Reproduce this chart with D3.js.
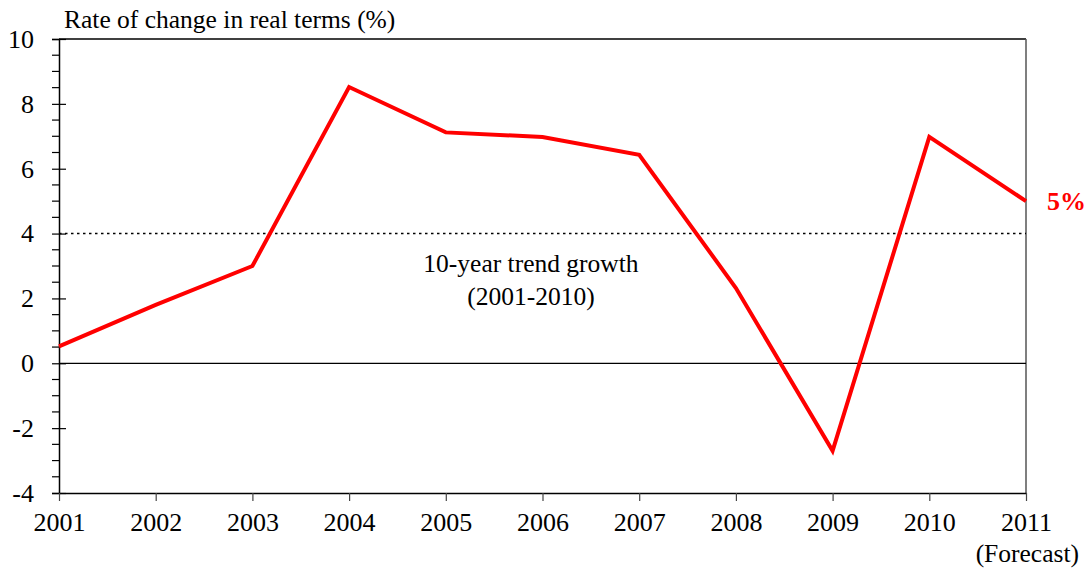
<!DOCTYPE html>
<html>
<head>
<meta charset="utf-8">
<script src="https://cdn.jsdelivr.net/npm/d3@7"></script>
<style>
  body { margin: 0; background: #fff; }
  svg text { font-family: "Liberation Serif", "Times New Roman", serif; }
</style>
</head>
<body>
<div id="chart"></div>
<script>
// data
var years = ["2001", "2002", "2003", "2004", "2005", "2006", "2007", "2008", "2009", "2010", "2011"];
var growth = [0.52, 1.8, 3.0, 8.52, 7.12, 6.98, 6.43, 2.32, -2.7, 6.98, 5.0];
var trendValue = 4.0;
var yTicks = [-4, -2, 0, 2, 4, 6, 8, 10];

var width = 1086, height = 570;
var margin = {left: 59, right: 60, top: 39, bottom: 77};

var svg = d3.select("#chart").append("svg")
  .attr("width", width)
  .attr("height", height);

var x = d3.scalePoint()
  .domain(years)
  .range([margin.left, width - margin.right]);

var y = d3.scaleLinear()
  .domain([-4, 10])
  .range([height - margin.bottom, margin.top]);

// frame (top + right)
svg.append("line")
  .attr("x1", margin.left).attr("x2", width - margin.right)
  .attr("y1", y(10)).attr("y2", y(10))
  .attr("stroke", "#000").attr("stroke-width", 1.5);
svg.append("line")
  .attr("x1", width - margin.right).attr("x2", width - margin.right)
  .attr("y1", y(10)).attr("y2", y(-4))
  .attr("stroke", "#555").attr("stroke-width", 1.5);

// minor ticks on y axis
var minor = d3.range(-4, 10.01, 0.5).filter(function(d) { return d % 2 !== 0; });
svg.selectAll(".minor").data(minor).enter().append("line")
  .attr("x1", margin.left - 7).attr("x2", margin.left)
  .attr("y1", function(d) { return y(d); }).attr("y2", function(d) { return y(d); })
  .attr("stroke", "#000").attr("stroke-width", 1.2);

// y axis
var yAxis = svg.append("g")
  .attr("transform", "translate(" + margin.left + ",0)")
  .call(d3.axisLeft(y).tickValues(yTicks).tickSize(7).tickPadding(18)
    .tickFormat(function(d) { return String(d); }));
yAxis.select(".domain").attr("stroke-width", 1.5);
yAxis.selectAll(".tick line").attr("stroke-width", 1.2).attr("x2", 7).attr("x1", -7);
yAxis.selectAll(".tick text")
  .attr("font-size", 26).attr("font-family", "Liberation Serif").attr("fill", "#000");

// x axis
var xAxis = svg.append("g")
  .attr("transform", "translate(0," + y(-4) + ")")
  .call(d3.axisBottom(x).tickSize(8).tickSizeOuter(0).tickPadding(12));
xAxis.select(".domain").attr("stroke-width", 1.5);
xAxis.selectAll(".tick line").attr("stroke-width", 1.2).attr("stroke", "#444");
xAxis.selectAll(".tick text")
  .attr("font-size", 26).attr("font-family", "Liberation Serif").attr("fill", "#000");

// zero line
svg.append("line")
  .attr("x1", margin.left).attr("x2", width - margin.right)
  .attr("y1", y(0)).attr("y2", y(0))
  .attr("stroke", "#000").attr("stroke-width", 1.2);

// trend line (dotted)
svg.append("line")
  .attr("x1", margin.left).attr("x2", width - margin.right)
  .attr("y1", y(trendValue)).attr("y2", y(trendValue))
  .attr("stroke", "#000").attr("stroke-width", 1.6)
  .attr("stroke-dasharray", "2.5,3.5");

svg.append("text")
  .attr("x", 531).attr("y", y(trendValue) + 38)
  .attr("text-anchor", "middle").attr("font-size", 25.5)
  .text("10-year trend growth");
svg.append("text")
  .attr("x", 531).attr("y", y(trendValue) + 71)
  .attr("text-anchor", "middle").attr("font-size", 25.5)
  .text("(2001-2010)");

// growth line
var line = d3.line()
  .x(function(d, i) { return x(years[i]); })
  .y(function(d) { return y(d); });

svg.append("path")
  .datum(growth)
  .attr("d", line)
  .attr("fill", "none")
  .attr("stroke", "#ff0000")
  .attr("stroke-width", 4)
  .attr("stroke-linejoin", "miter");

// labels
svg.append("text")
  .attr("x", 64).attr("y", 28)
  .attr("font-size", 25.5)
  .text("Rate of change in real terms (%)");

svg.append("text")
  .attr("x", 1047).attr("y", y(growth[growth.length - 1]) + 9)
  .attr("font-size", 26).attr("font-weight", "bold").attr("fill", "#ff0000")
  .text("5%");

svg.append("text")
  .attr("x", 1079).attr("y", 562)
  .attr("text-anchor", "end").attr("font-size", 25.5)
  .text("(Forecast)");
</script>
</body>
</html>
